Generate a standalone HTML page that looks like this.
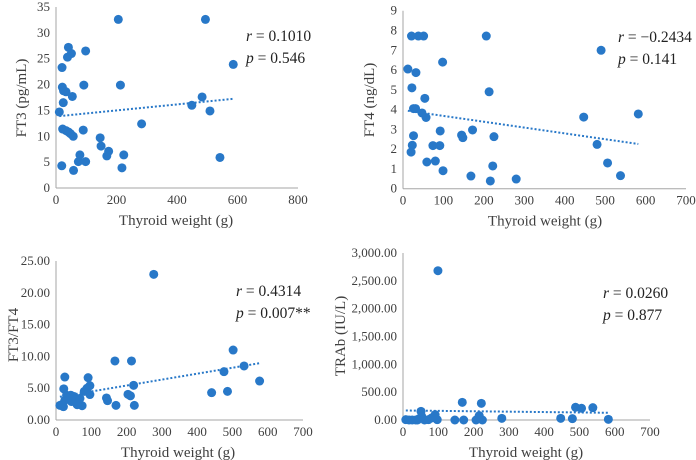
<!DOCTYPE html>
<html><head><meta charset="utf-8">
<style>
body{margin:0;background:#fff;}
svg{display:block;font-family:"Liberation Serif",serif;}
</style></head>
<body>
<svg id="chart" width="696" height="460" xmlns="http://www.w3.org/2000/svg"></svg>
<script>
// Panel A: FT3
const ft3Weights=[206,494,41,51,38,98,586,20,92,213,21,25,33,54,483,24,449,11,509,283,22,33,42,48,57,90,146,149,174,168,224,79,74,98,542,19,218,58];
const ft3Values=[32.6,32.6,27.2,26,25.3,26.5,23.9,23.3,19.9,19.9,19.5,18.8,18.6,17.7,17.6,16.5,16,14.7,14.9,12.4,11.4,11.1,10.8,10.5,10,11.2,9.7,8.1,7.1,6.2,6.4,6.4,5.1,5.1,5.9,4.3,3.9,3.4];
const ft3Ticks=["0","5","10","15","20","25","30","35"];
const ft3XTicks=["0","200","400","600","800"];
// Panel B: FT4
const ft4Weights=[21,38,51,206,490,98,12,32,22,213,54,26,31,47,57,447,582,92,172,145,148,225,26,23,20,74,91,480,59,80,506,222,99,168,216,280,538];
const ft4Values=[7.72,7.72,7.72,7.72,7.0,6.4,6.05,5.87,5.1,4.9,4.57,4.05,4.05,3.83,3.6,3.62,3.78,2.92,2.97,2.71,2.58,2.63,2.68,2.2,1.85,2.18,2.18,2.24,1.35,1.4,1.3,1.15,0.91,0.64,0.39,0.49,0.66];
const ft4Ticks=["0","1","2","3","4","5","6","7","8","9"];
const xTicks700=["0","100","200","300","400","500","600","700"];
// Panel C: FT3/FT4
const ratioWeights=[277,502,167,214,533,476,577,25,91,96,220,88,22,80,441,486,96,204,211,143,146,170,222,74,11,19,25,30,37,44,51,57,60,42,21,68];
const ratioValues=[22.9,11,9.28,9.28,8.5,7.6,6.13,6.76,6.66,5.4,5.45,5,4.9,4.5,4.3,4.5,4,4.03,3.8,3.46,3.04,2.3,2.3,2.25,2.3,2.5,3.1,3.9,3.4,2.9,3.7,3.1,2.4,3.9,2.1,3.4];
const ratioTicks=["0.00","5.00","10.00","15.00","20.00","25.00"];
// Panel D: TRAb
const trabWeights=[99,168,222,489,506,538,51,91,216,280,447,480,582,8,17,26,36,44,61,72,81,97,147,172,207,225,53,86,41];
const trabValues=[2682,317,299,228,210,222,156,96,78,30,30,24,12,6,0,0,0,18,0,6,36,6,0,0,0,0,66,48,0];
const trabTicks=["0.00","500.00","1,000.00","1,500.00","2,000.00","2,500.00","3,000.00"];

const NS="http://www.w3.org/2000/svg";
const svg=document.getElementById('chart');
function mk(tag,attrs,parent){const e=document.createElementNS(NS,tag);for(const k in attrs)e.setAttribute(k,attrs[k]);(parent||svg).appendChild(e);return e;}
const BLUE="#2878c8";

function panel(cfg){
  const g=mk('g',{});
  
  
  const xmax=parseFloat(cfg.xTicks[cfg.xTicks.length-1].replace(/,/g,''));
  const ymax=parseFloat(cfg.yTicks[cfg.yTicks.length-1].replace(/,/g,''));
  const X=v=>cfg.x0+(v/xmax)*(cfg.x1-cfg.x0);
  const Y=v=>cfg.y0-(v/ymax)*(cfg.y0-cfg.y1);
  const ya=mk('line',{x1:cfg.x0,y1:cfg.y1,x2:cfg.x0,y2:cfg.y0,stroke:"#a6a6a6","stroke-width":1},g);
  
  
  const xa=mk('line',{x1:cfg.x0,y1:cfg.y0,x2:cfg.x1,y2:cfg.y0,stroke:"#a6a6a6","stroke-width":1},g);
  
  
  cfg.yTicks.forEach(t=>{
    const v=parseFloat(t.replace(/,/g,''));
    const e=mk('text',{x:cfg.x0-6,y:Y(v)+4,"text-anchor":"end","font-size":13,fill:"#404040"},g);
    e.textContent=t;
    
    
  });
  cfg.xTicks.forEach(t=>{
    const v=parseFloat(t);
    const e=mk('text',{x:X(v),y:cfg.y0+16,"text-anchor":"middle","font-size":13,fill:"#404040"},g);
    e.textContent=t;
    
    
  });
  const xt=mk('text',{x:cfg.xtx,y:cfg.y0+37,"text-anchor":"middle","font-size":15,fill:"#404040"},g);
  xt.textContent="Thyroid weight (g)";
  
  
  const yt=mk('text',{x:0,y:0,"text-anchor":"middle","font-size":15,fill:"#404040",transform:`translate(${cfg.ytx},${cfg.yty}) rotate(-90)`},g);
  yt.textContent=cfg.ytitle;
  
  
  const xs=cfg.xs, ys=cfg.ys, n=xs.length;
  const mx=xs.reduce((a,b)=>a+b,0)/n, my=ys.reduce((a,b)=>a+b,0)/n;
  let sxy=0,sxx=0;for(let i=0;i<n;i++){sxy+=(xs[i]-mx)*(ys[i]-my);sxx+=(xs[i]-mx)**2;}
  const b=sxy/sxx,a=my-b*mx;
  const xmin=Math.min(...xs),xm=Math.max(...xs);
  xs.forEach((x,i)=>{
    const c=mk('circle',{cx:X(x),cy:Y(ys[i]),r:4.5,fill:BLUE},g);
    
    
  });
  const tl=mk('line',{x1:X(xmin),y1:Y(a+b*xmin),x2:X(xm),y2:Y(a+b*xm),stroke:BLUE,"stroke-width":2,"stroke-dasharray":"2 2"},g);
  
  
  const r=mk('text',{x:cfg.ax,y:cfg.ay,"font-size":15.5,fill:"#222"},g);
  r.innerHTML=`<tspan font-style="italic">r</tspan> = ${cfg.r}`;
  
  
  const p=mk('text',{x:cfg.ax,y:cfg.ay+22,"font-size":15.5,fill:"#222"},g);
  p.innerHTML=`<tspan font-style="italic">p</tspan> = ${cfg.p}`;
  
  
}

panel({name:'ft3-panel',x0:56,x1:298,y0:188,y1:7,xs:ft3Weights,ys:ft3Values,yTicks:ft3Ticks,xTicks:ft3XTicks,ytitle:"FT3 (pg/mL)",ytx:26,yty:98,xtx:176,ax:246,ay:41,r:"0.1010",p:"0.546"});
panel({name:'ft4-panel',x0:403,x1:686,y0:188.7,y1:10.7,xs:ft4Weights,ys:ft4Values,yTicks:ft4Ticks,xTicks:xTicks700,ytitle:"FT4 (ng/dL)",ytx:374,yty:100,xtx:545,ax:618,ay:42,r:"−0.2434",p:"0.141"});
panel({name:'ratio-panel',x0:56,x1:303,y0:420,y1:261,xs:ratioWeights,ys:ratioValues,yTicks:ratioTicks,xTicks:xTicks700,ytitle:"FT3/FT4",ytx:18,yty:335,xtx:178,ax:236,ay:296,r:"0.4314",p:"0.007**"});
panel({name:'trab-panel',x0:403,x1:650,y0:420,y1:253,xs:trabWeights,ys:trabValues,yTicks:trabTicks,xTicks:xTicks700,ytitle:"TRAb (IU/L)",ytx:345,yty:336,xtx:526,ax:603,ay:298,r:"0.0260",p:"0.877"});
</script>
</body></html>
